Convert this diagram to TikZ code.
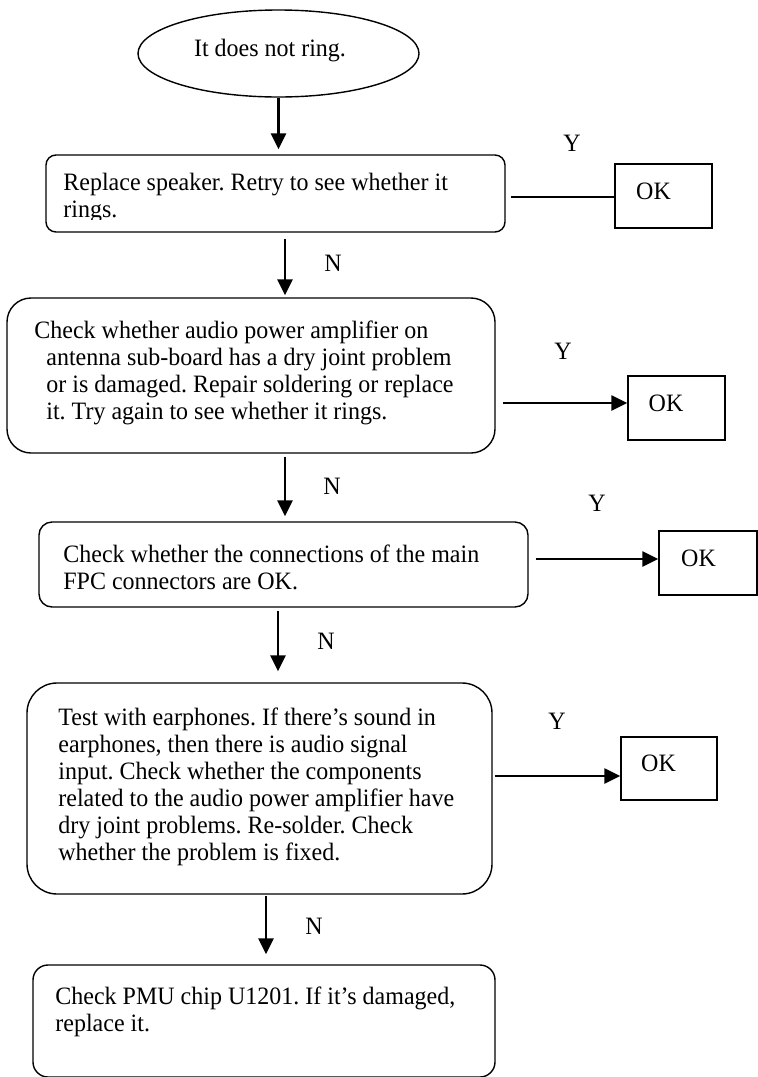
\documentclass[tikz,border=0pt]{standalone}
\usepackage{fontspec}
\setmainfont{Liberation Serif}[FakeStretch=0.96]
\usetikzlibrary{shapes.geometric,arrows.meta}
\frenchspacing
\begin{document}
\begin{tikzpicture}[x=0.5pt,y=-0.5pt,
  every node/.style={font=\fontsize{12.5}{13.5}\selectfont},
  flowbox/.style={draw, line width=0.7pt, rectangle, rounded corners=#1, inner sep=0pt},
  flowbox/.default=6pt,
  okbox/.style={draw, line width=0.7pt, rectangle, inner sep=0pt},
  txt/.style={inner sep=0pt, align=left, anchor=west},
  tag/.style={inner sep=0pt},
  flow/.style={line width=1.25pt, -{Triangle[length=8pt,width=7.5pt]}},
  plain/.style={line width=1.25pt}]
\useasboundingbox (0,0) rectangle (758,1077);

% columns of the vertical connectors
\coordinate (c2) at (285,0);
\coordinate (c4) at (278,0);
\coordinate (c5) at (266,0);

% start terminal
\node[draw, ellipse, line width=0.7pt, inner sep=0pt,
      minimum width=140.5pt, minimum height=43.5pt] (start) at (278.5,53.5) {};
\node[tag] (t0) at (270,51) {It does not ring.};

% step 1
\node[flowbox=5pt, minimum width=229.5pt, minimum height=38.5pt] (box1) at (275.5,193.5) {};
\begin{scope}
  \clip (40,150) rectangle (510,219);
  \node[txt] (t1) at (63,198) {Replace speaker. Retry to see whether it\\rings.};
\end{scope}
\node[okbox, minimum width=48.5pt, minimum height=32pt] (ok1) at (663.5,196) {};
\node[tag] (k1) at (653.5,191) {OK};
\node[tag] (y1) at (572,143) {Y};

% step 2
\node[flowbox=12pt, minimum width=244pt, minimum height=77.5pt] (box2) at (251,375.5) {};
\node[txt] (t2) at (34,373) {Check whether audio power amplifier on\\
  \hspace*{6pt}antenna sub-board has a dry joint problem\\
  \hspace*{6pt}or is damaged. Repair soldering or replace\\
  \hspace*{6pt}it. Try again to see whether it rings.};
\node[okbox, minimum width=48.5pt, minimum height=32pt] (ok2) at (676.5,408) {};
\node[tag] (k2) at (666,403) {OK};
\node[tag] (y2) at (563,351) {Y};
\node[tag] (n2) at (333,263) {N};

% step 3
\node[flowbox=6.5pt, minimum width=244.5pt, minimum height=42.5pt] (box3) at (283.5,564.5) {};
\node[txt] (t3) at (63,567) {Check whether the connections of the main\\FPC connectors are OK.};
\node[okbox, minimum width=49pt, minimum height=32pt] (ok3) at (708,563) {};
\node[tag] (k3) at (698.5,558) {OK};
\node[tag] (y3) at (597,503) {Y};
\node[tag] (n3) at (332,486) {N};

% step 4
\node[flowbox=15pt, minimum width=232.5pt, minimum height=105.5pt] (box4) at (259.5,788.5) {};
\node[txt] (t4) at (58,787) {Test with earphones. If there’s sound in\\
  earphones, then there is audio signal\\
  input. Check whether the components\\
  related to the audio power amplifier have\\
  dry joint problems. Re-solder. Check\\
  whether the problem is fixed.};
\node[okbox, minimum width=48pt, minimum height=31.5pt] (ok4) at (669,768.5) {};
\node[tag] (k4) at (658.5,763) {OK};
\node[tag] (y4) at (557,721) {Y};
\node[tag] (n4) at (326,641) {N};

% step 5
\node[flowbox=7.5pt, minimum width=231pt, minimum height=56pt] (box5) at (264,1021) {};
\node[txt] (t5) at (55,1012) {Check PMU chip U1201. If it’s damaged,\\replace it.};
\node[tag] (n5) at (314,926) {N};

% "no" path, top to bottom
\draw[flow, shorten >=2.5pt] (start.south) -- (start.south |- box1.north);
\draw[flow, shorten <=3pt, shorten >=1pt] (box1.south -| c2) -- (box2.north -| c2);
\draw[flow, shorten <=1.5pt, shorten >=2.5pt] (box2.south -| c2) -- (box3.north -| c2);
\draw[flow, shorten <=1.5pt, shorten >=5.5pt] (box3.south -| c4) -- (box4.north -| c4);
\draw[flow, shorten <=0.5pt, shorten >=5pt] (box4.south -| c5) -- (box5.north -| c5);

% "yes" branches
\draw[plain, shorten <=2.5pt] ([yshift=-0.5pt]ok1.west -| box1.east) -- ([yshift=-0.5pt]ok1.west);
\draw[flow, shorten <=3.5pt] ([yshift=2.5pt]ok2.west -| box2.east) -- ([yshift=2.5pt]ok2.west);
\draw[flow, shorten <=3.5pt] ([yshift=2pt]ok3.west -| box3.east) -- ([yshift=2pt]ok3.west);
\draw[flow, shorten <=1pt] ([yshift=-3.75pt]ok4.west -| box4.east) -- ([yshift=-3.75pt]ok4.west);
\end{tikzpicture}
\end{document}
